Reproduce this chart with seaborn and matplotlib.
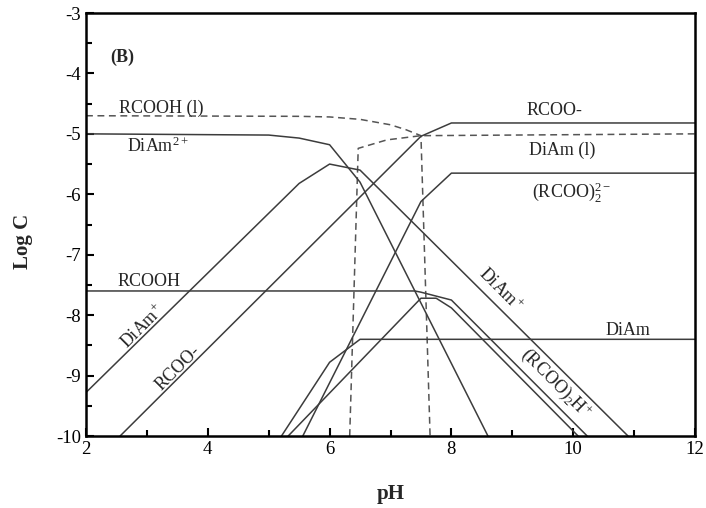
import matplotlib
matplotlib.use("Agg")
import matplotlib.pyplot as plt
import seaborn as sns
import pandas as pd
from matplotlib.ticker import MultipleLocator

sns.set_theme(style="ticks")
plt.rcParams['font.family'] = ['Liberation Serif', 'DejaVu Serif']
plt.rcParams['mathtext.fontset'] = 'custom'
plt.rcParams['mathtext.rm'] = 'Liberation Serif'
plt.rcParams['mathtext.it'] = 'Liberation Serif:italic'
plt.rcParams['mathtext.bf'] = 'Liberation Serif:bold'
plt.rcParams['axes.unicode_minus'] = False

# ---- data (pH, log C) ----
rcooh_l_ph = [2, 5.5, 6, 6.5, 7, 7.25, 7.5, 7.65]
rcooh_l_c = [-4.7, -4.71, -4.72, -4.76, -4.85, -4.93, -5.03, -10]

diam_l_ph = [6.33, 6.47, 6.94, 7.5, 12]
diam_l_c = [-10, -5.24, -5.1, -5.03, -5.0]

diam2_ph = [2, 5, 5.5, 6, 6.5, 7, 7.5, 8, 8.6]
diam2_c = [-5.0, -5.02, -5.07, -5.18, -5.8, -6.8, -7.8, -8.8, -10]

diamp_ph = [2, 5.5, 6, 6.5, 10.9]
diamp_c = [-9.28, -5.82, -5.5, -5.6, -10]

rcoo_ph = [2.56, 7.5, 8, 12]
rcoo_c = [-10, -5.04, -4.82, -4.82]

rcoo2_ph = [5.56, 7.5, 8, 12]
rcoo2_c = [-10, -6.12, -5.65, -5.65]

rcooh_ph = [2, 7.4, 7.5, 8, 10.23]
rcooh_c = [-7.6, -7.6, -7.62, -7.75, -10]

rcoo2h_ph = [5.32, 7.5, 7.75, 8, 10.08]
rcoo2h_c = [-10, -7.72, -7.72, -7.88, -10]

diam_ph = [5.21, 6, 6.5, 12]
diam_c = [-10, -8.78, -8.4, -8.4]

series = [
    (rcooh_l_ph, rcooh_l_c, "--"),
    (diam_l_ph, diam_l_c, "--"),
    (diam2_ph, diam2_c, "-"),
    (diamp_ph, diamp_c, "-"),
    (rcoo_ph, rcoo_c, "-"),
    (rcoo2_ph, rcoo2_c, "-"),
    (rcooh_ph, rcooh_c, "-"),
    (rcoo2h_ph, rcoo2h_c, "-"),
    (diam_ph, diam_c, "-"),
]

fig = plt.figure(figsize=(7.06, 5.08), dpi=100)
ax = fig.add_axes([86/706, 1-436/508, (695-86)/706, (436-13)/508])

for xs, ys, ls in series:
    df = pd.DataFrame({"pH": xs, "logC": ys})
    sns.lineplot(data=df, x="pH", y="logC", sort=False, estimator=None, ax=ax,
                 color="#555555" if ls == "--" else "#3c3c3c",
                 linestyle=ls, linewidth=1.1,
                 dashes=False)
for l in ax.get_lines():
    if l.get_linestyle() == "--":
        l.set_dashes([4.5, 3])

ax.set_xlim(2, 12)
ax.set_ylim(-10, -3)
ax.xaxis.set_major_locator(MultipleLocator(2))
ax.xaxis.set_minor_locator(MultipleLocator(1))
ax.yaxis.set_major_locator(MultipleLocator(1))
ax.yaxis.set_minor_locator(MultipleLocator(0.5))
ax.tick_params(which="both", direction="in", top=False, right=False,
               labelsize=13.5, width=1.5, colors="black")
ax.tick_params(which="major", length=6)
ax.tick_params(which="minor", length=4)
for s in ax.spines.values():
    s.set_linewidth(1.8)
    s.set_color("black")

ax.set_xlabel("pH", fontsize=15, fontweight="bold")
ax.set_ylabel("Log C", fontsize=15, fontweight="bold")
ax.xaxis.set_label_coords(0.5, -0.113)
ax.yaxis.set_label_coords(-0.087, 0.46)

fs = 13
ax.text(2.39, -3.73, "(B)", fontsize=13, fontweight="bold", va="center")
ax.text(2.55, -4.57, "RCOOH (l)", fontsize=fs, va="center")
ax.text(2.67, -5.2, "DiAm$^{\\mathrm{2+}}$", fontsize=fs, va="center")
ax.text(9.7, -4.62, "RCOO-", fontsize=fs, va="center", ha="center")
ax.text(9.82, -5.27, "DiAm (l)", fontsize=fs, va="center", ha="center")
ax.text(9.33, -5.96, "(RCOO)$_{\\mathrm{2}}^{\\mathrm{2-}}$", fontsize=fs, va="center")
ax.text(2.51, -7.45, "RCOOH", fontsize=fs, va="center")
ax.text(2.94, -8.2, "DiAm$^{\\mathrm{+}}$", fontsize=fs, va="center", ha="center", rotation=45)
ax.text(3.51, -8.87, "RCOO-", fontsize=fs, va="center", ha="center", rotation=45)
ax.text(8.8, -7.58, "DiAm$^{\\mathrm{+}}$", fontsize=fs, va="center", ha="center", rotation=-45)
ax.text(10.9, -8.25, "DiAm", fontsize=fs, va="center", ha="center")
ax.text(9.72, -9.12, "(RCOO)$_{\\mathrm{2}}$H$^{\\mathrm{+}}$", fontsize=fs, va="center", ha="center", rotation=-45)

fig.savefig("out.png", dpi=100)
